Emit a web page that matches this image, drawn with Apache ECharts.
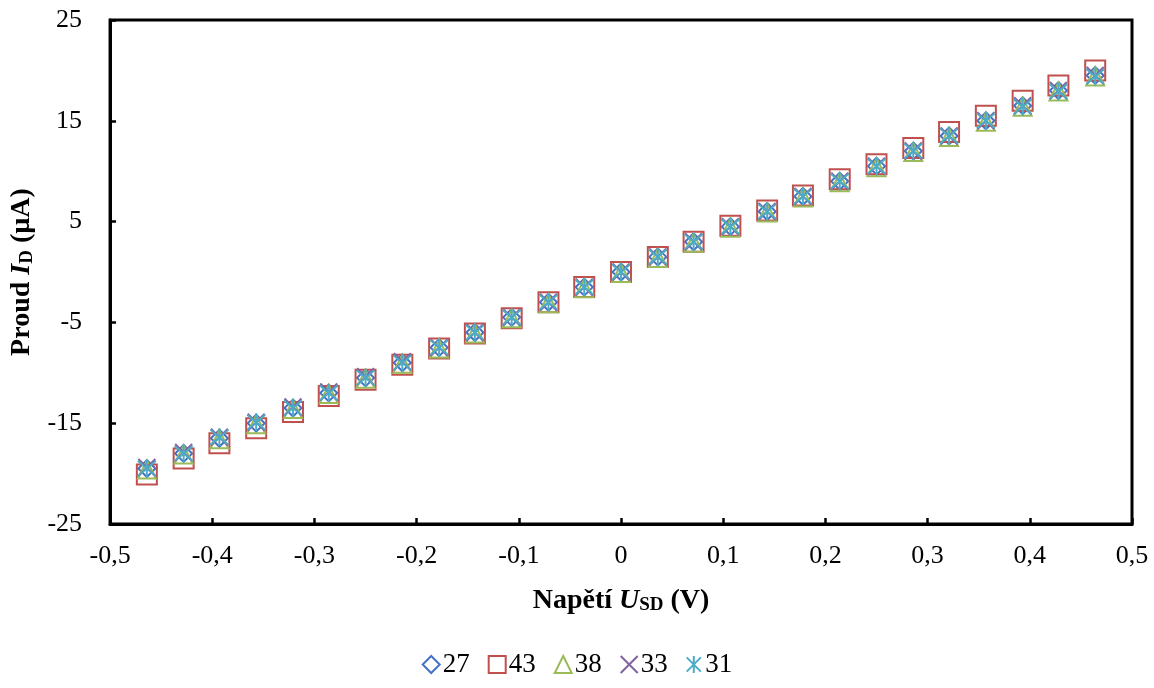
<!DOCTYPE html>
<html><head><meta charset="utf-8">
<script src="https://cdn.jsdelivr.net/npm/echarts@6/dist/echarts.min.js"></script>
<style>html,body{margin:0;padding:0;background:#fff}#c{width:1154px;height:688px}</style>
</head><body><div id="c"></div>
<script>
const voltage = [-0.464,-0.428,-0.393,-0.357,-0.321,-0.286,-0.25,-0.214,-0.178,-0.143,-0.107,-0.071,-0.036,0,0.036,0.071,0.107,0.143,0.178,0.214,0.25,0.286,0.321,0.357,0.393,0.428,0.464];
const s27 = [-19.5,-18.0,-16.5,-15.0,-13.5,-12.0,-10.5,-9.0,-7.5,-6.0,-4.5,-3.0,-1.5,0,1.5,3.0,4.5,6.0,7.5,9.0,10.5,12.0,13.5,15.0,16.5,18.0,19.5];
const s43 = [-20.1,-18.5,-17.0,-15.5,-13.9,-12.3,-10.7,-9.2,-7.6,-6.1,-4.6,-3.0,-1.5,0,1.5,3.0,4.6,6.1,7.6,9.2,10.7,12.3,13.9,15.5,17.0,18.5,20.0];
const s38 = [-19.6,-18.1,-16.6,-15.1,-13.6,-12.1,-10.6,-9.1,-7.6,-6.1,-4.6,-3.1,-1.6,-0.1,1.4,2.9,4.4,5.9,7.4,8.9,10.4,11.9,13.4,14.9,16.4,17.9,19.4];
const s33 = [-19.4,-17.9,-16.4,-14.9,-13.4,-11.9,-10.4,-8.9,-7.5,-6.0,-4.5,-3.0,-1.5,0,1.5,3.0,4.5,6.0,7.5,9.0,10.5,12.0,13.5,15.0,16.5,18.0,19.5];
const s31 = [-19.5,-18.0,-16.4,-14.9,-13.5,-12.0,-10.5,-9.0,-7.5,-6.0,-4.5,-3.0,-1.5,0,1.5,3.0,4.5,6.0,7.5,9.0,10.5,12.0,13.5,15.0,16.4,17.9,19.4];
const seriesNames = ['27','43','38','33','31'];
const seriesColors = ['#4472C4','#C0504D','#9BBB59','#8064A2','#4BACC6'];
const yTickLabels = ['-25','-15','-5','5','15','25'];

const allData = [s27,s43,s38,s33,s31];
const symbols = [
  'path://M5,0L10,5L5,10L0,5Z',
  'rect',
  'triangle',
  'path://M0,0L10,10M10,0L0,10',
  'path://M0,0L10,10M10,0L0,10M5,-1L5,11'
];
const sizes = [17,20,18,17,18];
const font = '"Liberation Serif","Times New Roman",serif';

const chart = echarts.init(document.getElementById('c'), null, {renderer:'canvas'});
const titleRich = {
  b:{fontFamily:font,fontSize:28,fontWeight:'bold',color:'#000'},
  bi:{fontFamily:font,fontSize:28,fontWeight:'bold',fontStyle:'italic',color:'#000'},
  sub:{fontFamily:font,fontSize:19,fontWeight:'bold',color:'#000',verticalAlign:'bottom',padding:[10,0,0,0]}
};
chart.setOption({
  animation:false,
  backgroundColor:'#fff',
  grid:{left:110,right:22,top:20,bottom:164,show:true,borderColor:'#000',borderWidth:3,backgroundColor:'transparent'},
  legend:{
    bottom:5,left:'center',
    itemWidth:17,itemHeight:17,itemGap:18,
    textStyle:{fontFamily:font,fontSize:27,color:'#000',padding:[0,0,0,-2]},
    data:seriesNames.map((n,i)=>({name:n,icon:symbols[i],itemStyle:{color:'transparent',borderColor:seriesColors[i],borderWidth:2}}))
  },
  xAxis:{
    type:'value',min:-0.5,max:0.5,interval:0.1,
    name:'{b|Napětí }{bi|U}{sub|SD}{b| (V)}',
    nameLocation:'middle',nameGap:62,
    nameTextStyle:{rich:titleRich},
    axisLine:{show:true,onZero:false,lineStyle:{color:'#000',width:3}},
    axisTick:{show:true,inside:true,length:6,lineStyle:{color:'#000',width:2.5}},
    axisLabel:{fontFamily:font,fontSize:26,color:'#000',margin:19,
      formatter:v=>{const r=Math.round(v*10)/10; return r===0?'0':r.toFixed(1).replace('.',',');}},
    splitLine:{show:false}
  },
  yAxis:{
    type:'value',min:-25,max:25,interval:10,
    name:'{b|Proud }{bi|I}{sub|D}{b| (µA)}',
    nameLocation:'middle',nameGap:66,nameRotate:90,
    nameTextStyle:{rich:titleRich},
    axisLine:{show:true,onZero:false,lineStyle:{color:'#000',width:3}},
    axisTick:{show:true,inside:true,length:6,lineStyle:{color:'#000',width:2.5}},
    axisLabel:{fontFamily:font,fontSize:26,color:'#000',margin:28,
      formatter:v=>{const s=String(Math.round(v)); return yTickLabels.includes(s)?s:'';}},
    splitLine:{show:false}
  },
  series:allData.map((d,i)=>({
    name:seriesNames[i],type:'scatter',
    symbol:symbols[i],symbolSize:sizes[i],
    itemStyle:{color:'transparent',borderColor:seriesColors[i],borderWidth:2,opacity:1},
    data:voltage.map((x,j)=>[x,d[j]])
  }))
});
</script></body></html>
